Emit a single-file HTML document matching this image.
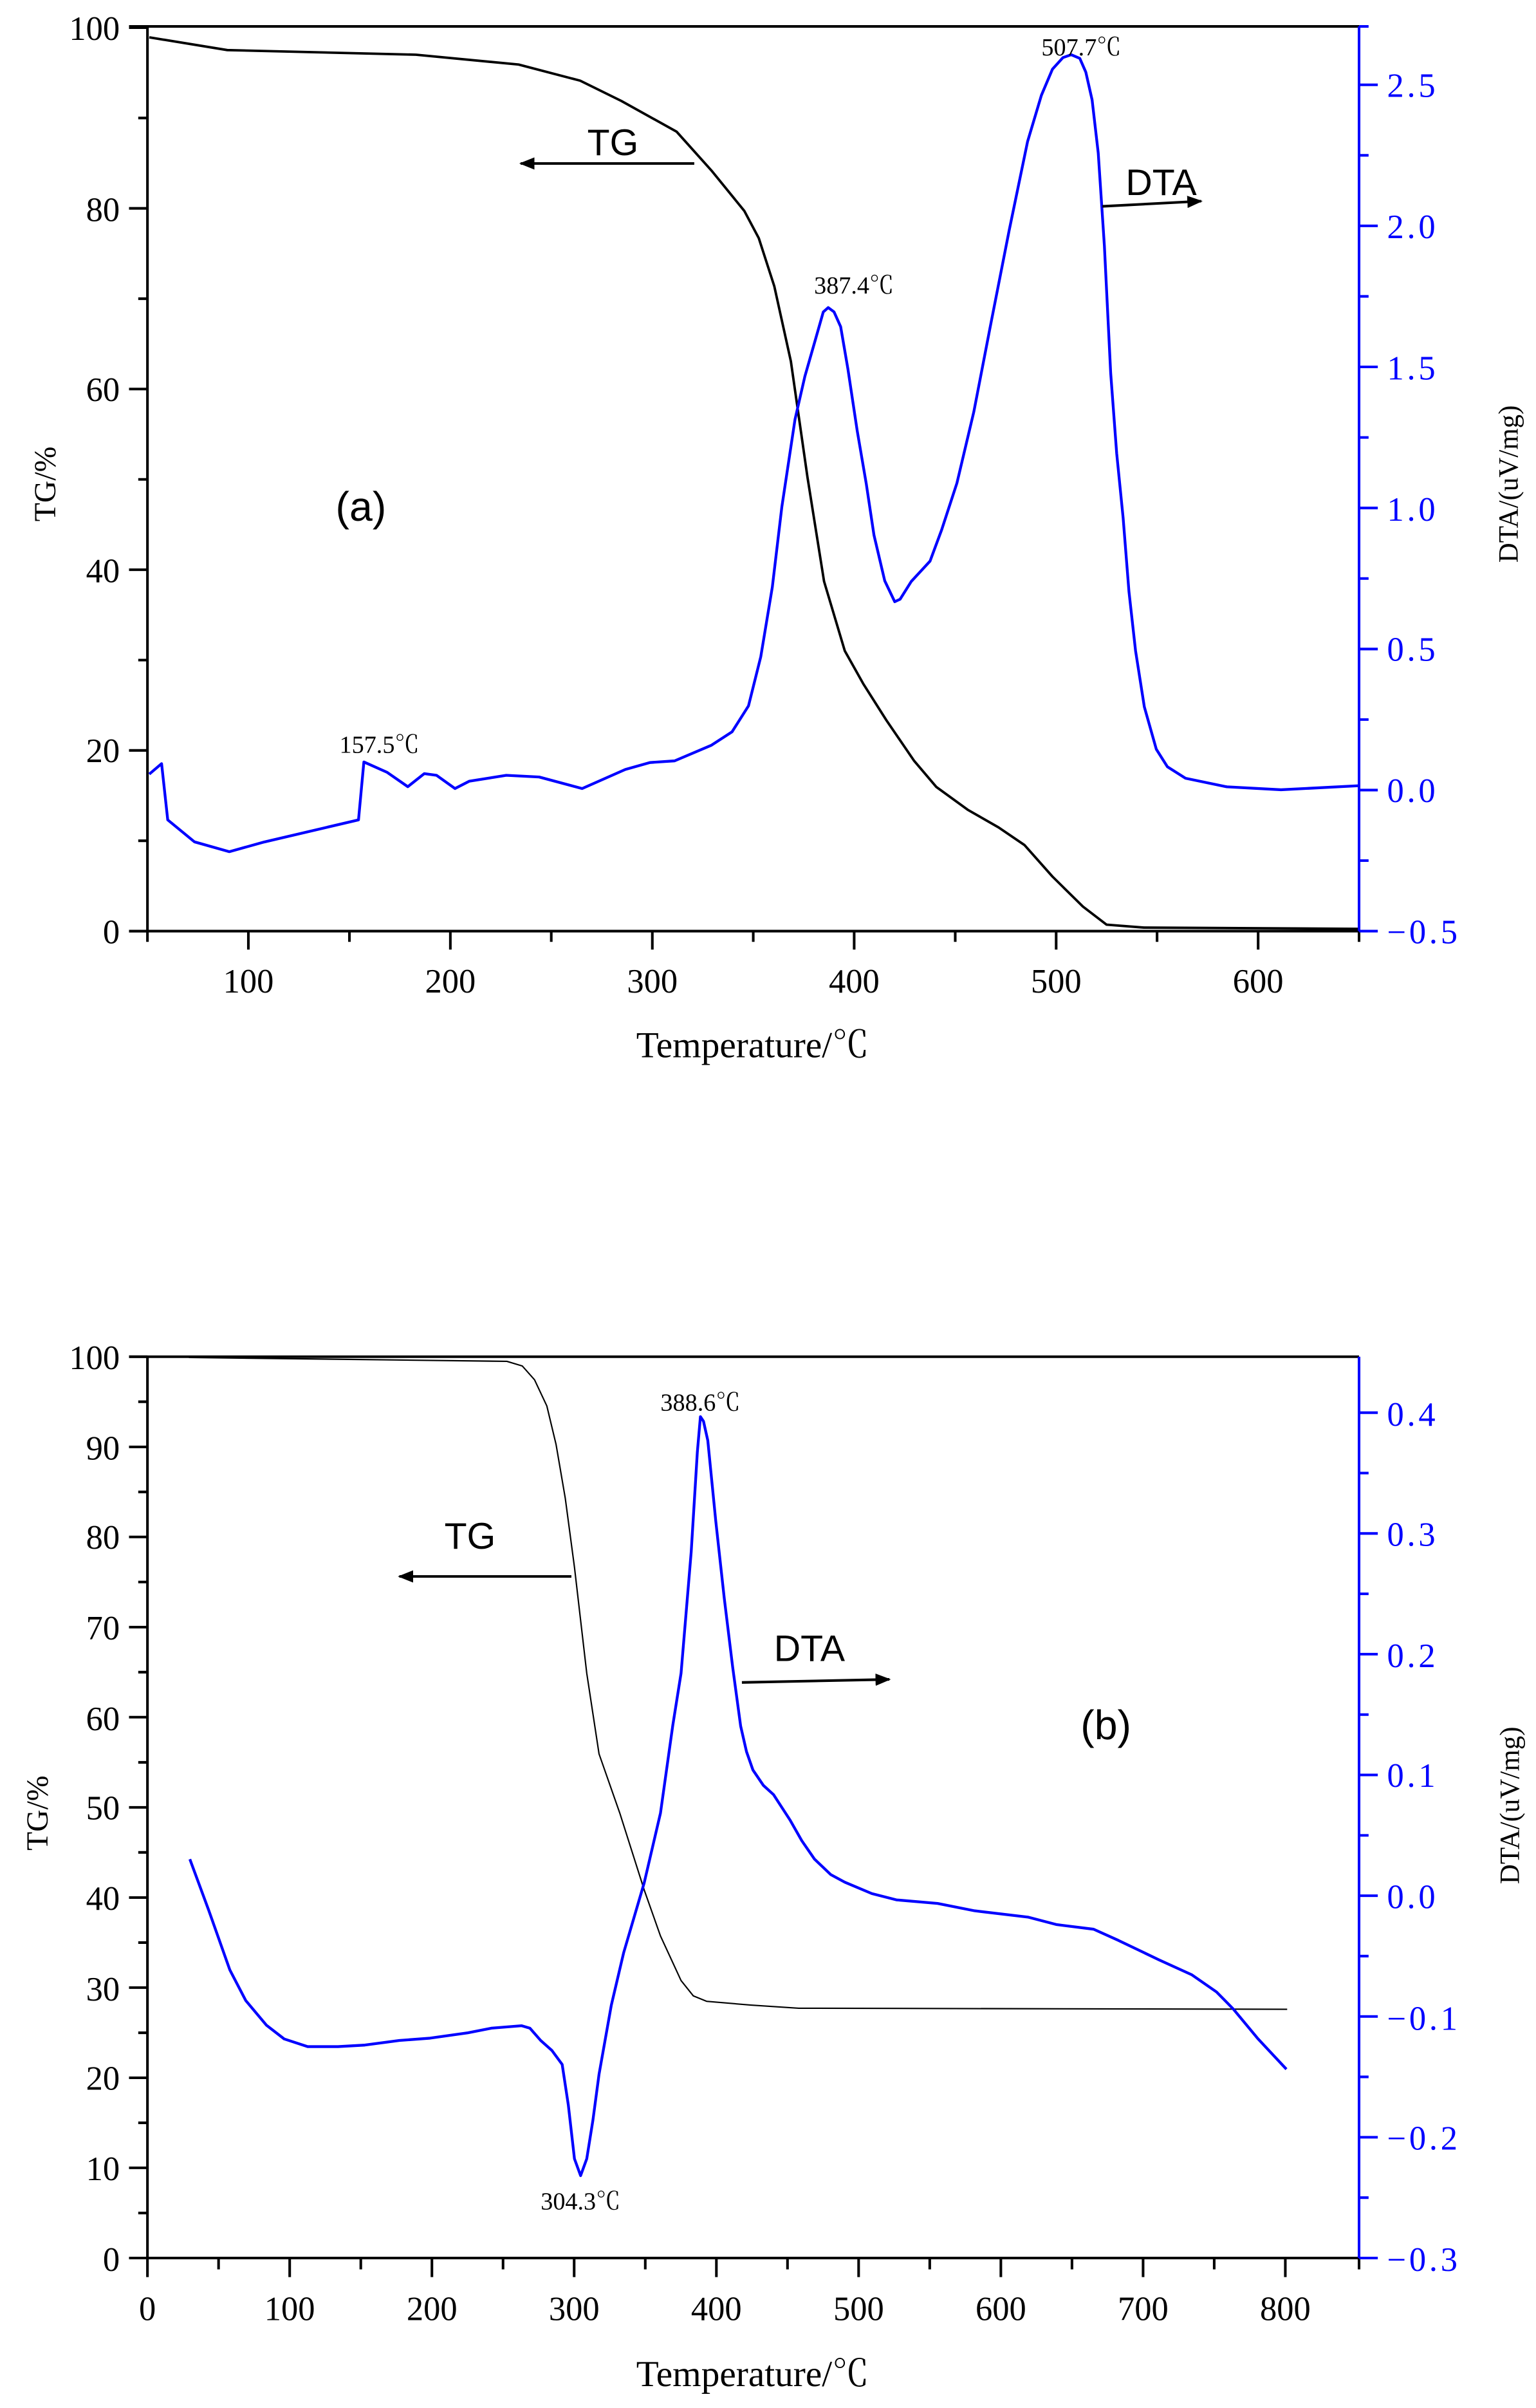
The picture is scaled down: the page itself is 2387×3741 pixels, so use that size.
<!DOCTYPE html>
<html><head><meta charset="utf-8"><style>
html,body{margin:0;padding:0;background:#fff;}
svg{display:block;}
text{font-family:"Liberation Serif","Noto Serif CJK SC",serif;}
.s{font-family:"Liberation Sans","Noto Sans CJK SC",sans-serif;}
</style></head><body>
<svg width="2387" height="3741" viewBox="0 0 1000 1567.2" preserveAspectRatio="none" xmlns="http://www.w3.org/2000/svg">
<defs>
<marker id="ah" markerWidth="10" markerHeight="8" refX="9" refY="4" orient="auto" markerUnits="userSpaceOnUse"><path d="M0,0 L10,4 L0,8 z" fill="#000"/></marker>
</defs>
<!-- ============ (a) ============ -->
<g stroke="#000" stroke-width="1.7" fill="none">
<line x1="84" y1="17.2" x2="884.8" y2="17.2"/>
<line x1="96" y1="17.2" x2="96" y2="606"/>
<line x1="84" y1="606" x2="884.8" y2="606"/>
<path d="M84,606H96M84,488.4H96M84,370.8H96M84,253.2H96M84,135.6H96M84,18H96M90,547.2H96M90,429.6H96M90,312H96M90,194.4H96M90,76.8H96"/>
<path d="M161.7,606V618M293.2,606V618M424.7,606V618M556.1,606V618M687.6,606V618M819.1,606V618M96,606V613M227.5,606V613M358.9,606V613M490.4,606V613M621.9,606V613M753.3,606V613M884.8,606V613"/>
</g>
<g stroke="#0000ff" stroke-width="1.7" fill="none">
<line x1="884.8" y1="17.2" x2="884.8" y2="606"/>
<path d="M884.8,606H897M884.8,514.2H897M884.8,422.4H897M884.8,330.6H897M884.8,238.8H897M884.8,147H897M884.8,55.2H897M884.8,560.1H891M884.8,468.3H891M884.8,376.5H891M884.8,284.7H891M884.8,192.9H891M884.8,101.1H891M884.8,17.2H891"/>
</g>
<g font-size="22" fill="#000" text-anchor="end">
<text x="78" y="614">0</text><text x="78" y="496">20</text><text x="78" y="379">40</text><text x="78" y="261">60</text><text x="78" y="144">80</text><text x="78" y="26">100</text>
</g>
<g font-size="22" fill="#000" text-anchor="middle">
<text x="161.7" y="646">100</text><text x="293.2" y="646">200</text><text x="424.7" y="646">300</text><text x="556.1" y="646">400</text><text x="687.6" y="646">500</text><text x="819.1" y="646">600</text>
</g>
<g font-size="22" fill="#0000ff" letter-spacing="2">
<text x="903" y="614">−0.5</text><text x="903" y="522">0.0</text><text x="903" y="430">0.5</text><text x="903" y="339">1.0</text><text x="903" y="247">1.5</text><text x="903" y="155">2.0</text><text x="903" y="63">2.5</text>
</g>
<text x="490" y="688" font-size="24" text-anchor="middle">Temperature/℃</text>
<text transform="translate(36,315) rotate(-90)" font-size="20" text-anchor="middle">TG/%</text>
<text transform="translate(988,315) rotate(-90)" font-size="18" text-anchor="middle">DTA/(uV/mg)</text>
<path fill="none" stroke="#000" stroke-width="1.6" stroke-linejoin="round" d="M97.2,24.3 L148,32.6 L270.8,35.6 L337.6,42 L377.7,52.5 L404.5,65.7 L440.5,85.7 L463.2,111 L484.6,137.3 L494,155 L504.1,186.3 L514.9,235.2 L525.7,310.6 L536.5,378.4 L550,423.6 L562,445 L577.1,468.8 L595,495 L609.5,512.1 L630,527 L650.1,538.5 L667,550 L685.2,570.5 L705,590 L720.4,601.8 L744.7,603.7 L884,604.5"/>
<path fill="none" stroke="#0000ff" stroke-width="1.8" stroke-linejoin="round" d="M97.2,503.8 L105.2,497 L109.2,533.6 L126.6,547.9 L149.3,554.3 L172,548 L233.4,533.6 L236.9,495.9 L252.1,502.7 L265.5,512 L276.2,503.5 L284.2,504.6 L296.2,513.2 L305.6,508.4 L329.6,504.6 L351,505.7 L379,513.2 L407.1,500.8 L423.1,496.3 L439.2,495.2 L463.2,485 L476.6,476.3 L487.3,459.4 L495.3,427.4 L502.8,382.2 L509,330 L517.6,272.9 L524,245 L531.1,220.2 L536,203 L539.2,200.2 L543,203 L547.3,212.6 L552,240 L558.1,280.5 L564,315 L569,348.3 L576,378 L582.5,391.6 L586,390 L593.3,378.4 L605.5,365.2 L613,345 L623,314.4 L634,268 L644.7,212.6 L657,150 L669,92.1 L678,62 L685.2,45 L692,37.5 L697.4,35.6 L703,38 L706.9,46.9 L711,65 L715,99.6 L719,160 L723.1,242.8 L727,295 L731.2,337 L735,385 L739.3,423.6 L745,460 L752.8,487.6 L760,499 L771.8,506.5 L798.8,512.1 L834,514 L884,511.4"/>
<g font-size="16" fill="#000" text-anchor="middle">
<text x="704" y="36">507.7℃</text><text x="556" y="191">387.4℃</text><text x="247" y="490">157.5℃</text>
</g>
<text class="s" x="399" y="101" font-size="24" text-anchor="middle">TG</text>
<line x1="452" y1="106.4" x2="339" y2="106.4" stroke="#000" stroke-width="1.7" marker-end="url(#ah)"/>
<text class="s" x="756" y="127" font-size="24" text-anchor="middle">DTA</text>
<line x1="717.7" y1="134.3" x2="782" y2="130.9" stroke="#000" stroke-width="1.7" marker-end="url(#ah)"/>
<text class="s" x="235" y="339" font-size="27" text-anchor="middle">(a)</text>

<!-- ============ (b) ============ -->
<g stroke="#000" stroke-width="1.7" fill="none">
<line x1="84" y1="883" x2="884.8" y2="883"/>
<line x1="96" y1="883" x2="96" y2="1469.6"/>
<line x1="84" y1="1469.6" x2="884.8" y2="1469.6"/>
<path d="M84,1469.6H96M84,1410.9H96M84,1352.3H96M84,1293.6H96M84,1235H96M84,1176.3H96M84,1117.6H96M84,1059H96M84,1000.3H96M84,941.7H96M84,883H96M90,1440.3H96M90,1381.6H96M90,1323H96M90,1264.3H96M90,1205.6H96M90,1147H96M90,1088.3H96M90,1029.6H96M90,971H96M90,912.3H96"/>
<path d="M96,1469.6V1482M188.6,1469.6V1482M281.2,1469.6V1482M373.8,1469.6V1482M466.4,1469.6V1482M559,1469.6V1482M651.6,1469.6V1482M744.2,1469.6V1482M836.8,1469.6V1482M142.3,1469.6V1477M234.9,1469.6V1477M327.5,1469.6V1477M420.1,1469.6V1477M512.7,1469.6V1477M605.3,1469.6V1477M697.9,1469.6V1477M790.5,1469.6V1477M884.8,1469.6V1477"/>
</g>
<g stroke="#0000ff" stroke-width="1.7" fill="none">
<line x1="884.8" y1="883" x2="884.8" y2="1469.6"/>
<path d="M884.8,1469.6H897M884.8,1391H897M884.8,1312.4H897M884.8,1233.8H897M884.8,1155.2H897M884.8,1076.6H897M884.8,998H897M884.8,919.4H897M884.8,1430.3H891M884.8,1351.7H891M884.8,1273.1H891M884.8,1194.5H891M884.8,1115.9H891M884.8,1037.3H891M884.8,958.7H891"/>
</g>
<g font-size="22" fill="#000" text-anchor="end">
<text x="78" y="1478">0</text><text x="78" y="1419">10</text><text x="78" y="1360">20</text><text x="78" y="1302">30</text><text x="78" y="1243">40</text><text x="78" y="1184">50</text><text x="78" y="1126">60</text><text x="78" y="1067">70</text><text x="78" y="1008">80</text><text x="78" y="950">90</text><text x="78" y="891">100</text>
</g>
<g font-size="22" fill="#000" text-anchor="middle">
<text x="96" y="1510">0</text><text x="188.6" y="1510">100</text><text x="281.2" y="1510">200</text><text x="373.8" y="1510">300</text><text x="466.4" y="1510">400</text><text x="559" y="1510">500</text><text x="651.6" y="1510">600</text><text x="744.2" y="1510">700</text><text x="836.8" y="1510">800</text>
</g>
<g font-size="22" fill="#0000ff" letter-spacing="2">
<text x="903" y="1478">−0.3</text><text x="903" y="1399">−0.2</text><text x="903" y="1321">−0.1</text><text x="903" y="1242">0.0</text><text x="903" y="1163">0.1</text><text x="903" y="1085">0.2</text><text x="903" y="1006">0.3</text><text x="903" y="928">0.4</text>
</g>
<text x="490" y="1553" font-size="24" text-anchor="middle">Temperature/℃</text>
<text transform="translate(31,1180) rotate(-90)" font-size="20" text-anchor="middle">TG/%</text>
<text transform="translate(989,1175) rotate(-90)" font-size="18" text-anchor="middle">DTA/(uV/mg)</text>
<path fill="none" stroke="#000" stroke-width="0.9" stroke-linejoin="round" d="M123,883.5 L250,885 L330,886 L340,889 L348,898 L356,915 L362,940 L368,975 L374,1020 L382,1089 L390,1141.5 L403.5,1180 L419.4,1230 L430,1260 L443.4,1289 L451.4,1299 L460,1302.5 L489,1305 L520,1307 L838,1307.7"/>
<path fill="none" stroke="#0000ff" stroke-width="1.8" stroke-linejoin="round" d="M123.6,1210 L136,1243.6 L149.6,1282 L160,1302 L173.4,1318 L185,1327 L200.3,1332 L220,1332 L237.5,1331 L260,1328 L280,1326.5 L304.6,1323 L320,1320 L339.5,1318.4 L345,1320 L352,1328 L359.3,1334.5 L366,1343.6 L370,1370 L374,1405 L378,1416 L382,1405 L386,1380 L390,1350 L398,1305 L406,1271 L419.4,1225.4 L430,1180 L438,1123 L443.4,1089 L450,1010 L454,945 L456,922 L458,925 L460.8,937.5 L466,990 L471.5,1040 L477,1085 L482.2,1123.4 L486,1140 L490.2,1152 L497,1162 L503.6,1168 L514.2,1184.3 L522,1198 L530.3,1210 L540.8,1220 L550,1225 L567.6,1232.4 L583.6,1236.5 L610.4,1238.8 L634.5,1243.6 L669.2,1247.7 L688,1252.6 L712,1255.6 L728,1262.8 L754.7,1275.6 L776,1285.3 L792,1296.4 L803,1307.6 L818.9,1326.8 L837.5,1346.7"/>
<g font-size="16" fill="#000" text-anchor="middle">
<text x="456" y="918">388.6℃</text><text x="378" y="1438">304.3℃</text>
</g>
<text class="s" x="306" y="1008" font-size="24" text-anchor="middle">TG</text>
<line x1="372" y1="1026" x2="260" y2="1026" stroke="#000" stroke-width="1.7" marker-end="url(#ah)"/>
<text class="s" x="527" y="1081" font-size="24" text-anchor="middle">DTA</text>
<line x1="483" y1="1095" x2="579" y2="1093" stroke="#000" stroke-width="1.7" marker-end="url(#ah)"/>
<text class="s" x="720" y="1132" font-size="27" text-anchor="middle">(b)</text>
</svg>
</body></html>
